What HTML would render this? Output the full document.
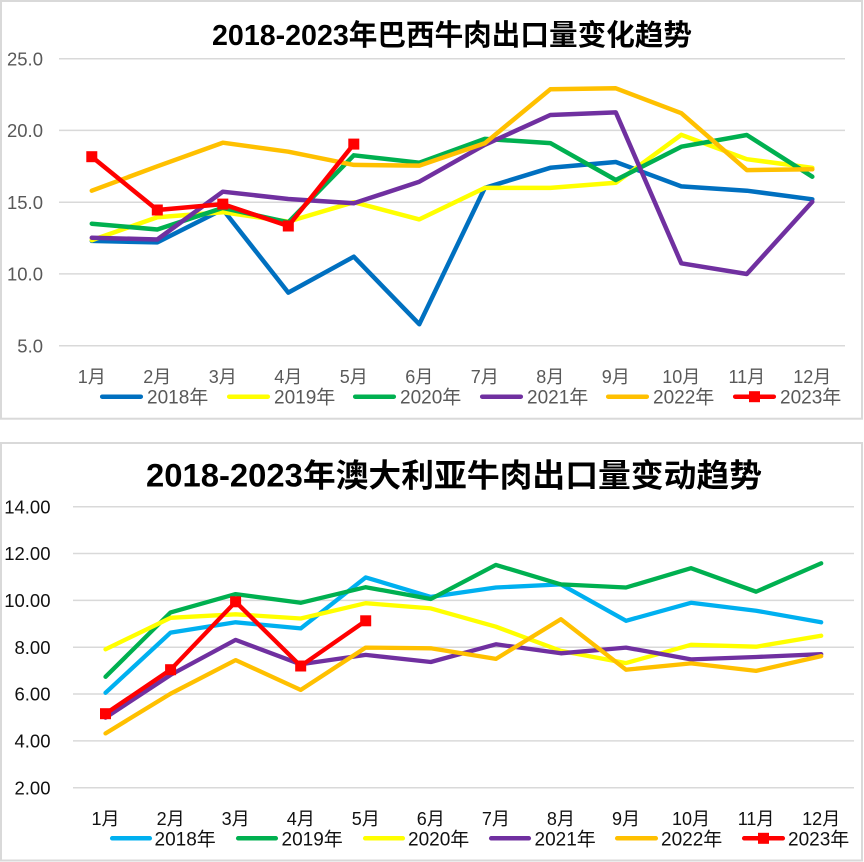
<!DOCTYPE html>
<html><head><meta charset="utf-8"><style>
html,body{margin:0;padding:0;background:#fff;}
svg{display:block;}
</style></head><body>
<svg width="864" height="862" viewBox="0 0 864 862" xmlns="http://www.w3.org/2000/svg">
<rect x="0" y="0" width="864" height="862" fill="#fff"/>
<!-- ============ TOP CHART ============ -->
<rect x="1" y="1" width="861" height="417.7" fill="#fff" stroke="#d9d9d9" stroke-width="2"/>
<text x="452" y="45" text-anchor="middle" font-family="'Liberation Sans','Noto Sans CJK SC',sans-serif" font-weight="bold" font-size="29" fill="#000" textLength="480" lengthAdjust="spacingAndGlyphs">2018-2023年巴西牛肉出口量变化趋势</text>
<g stroke="#d9d9d9" stroke-width="1.5">
<line x1="59" y1="58.7" x2="845" y2="58.7"/>
<line x1="59" y1="130.4" x2="845" y2="130.4"/>
<line x1="59" y1="202.2" x2="845" y2="202.2"/>
<line x1="59" y1="273.9" x2="845" y2="273.9"/>
<line x1="59" y1="345.7" x2="845" y2="345.7"/>
</g>
<g font-family="'Liberation Sans','Noto Sans CJK SC',sans-serif" font-size="18.5" fill="#595959" text-anchor="end">
<text x="43" y="65.3">25.0</text>
<text x="43" y="137">20.0</text>
<text x="43" y="208.8">15.0</text>
<text x="43" y="280.5">10.0</text>
<text x="43" y="352.3">5.0</text>
</g>
<g font-family="'Liberation Sans','Noto Sans CJK SC',sans-serif" font-size="18" fill="#595959" text-anchor="middle">
<text x="91.8" y="383">1月</text>
<text x="157.3" y="383">2月</text>
<text x="222.8" y="383">3月</text>
<text x="288.3" y="383">4月</text>
<text x="353.8" y="383">5月</text>
<text x="419.3" y="383">6月</text>
<text x="484.8" y="383">7月</text>
<text x="550.3" y="383">8月</text>
<text x="615.8" y="383">9月</text>
<text x="681.3" y="383">10月</text>
<text x="746.8" y="383">11月</text>
<text x="812.3" y="383">12月</text>
</g>
<g fill="none" stroke-width="4.5" stroke-linejoin="round" stroke-linecap="round">
<polyline stroke="#0070C0" points="91.8,240.9 157.3,242.4 222.8,209.4 288.3,292.6 353.8,256.7 419.3,324.2 484.8,187.9 550.3,167.8 615.8,162.0 681.3,186.4 746.8,190.7 812.3,199.3"/>
<polyline stroke="#FFFF00" points="91.8,240.2 157.3,217.3 222.8,212.2 288.3,221.6 353.8,202.2 419.3,219.4 484.8,187.9 550.3,187.9 615.8,182.8 681.3,134.8 746.8,159.2 812.3,167.8"/>
<polyline stroke="#00B050" points="91.8,223.7 157.3,229.5 222.8,207.9 288.3,222.3 353.8,155.3 419.3,162.7 484.8,138.9 550.3,143.1 615.8,180.0 681.3,146.7 746.8,135.0 812.3,176.7"/>
<polyline stroke="#7030A0" points="91.8,237.7 157.3,239.5 222.8,191.7 288.3,199.0 353.8,203.3 419.3,181.7 484.8,144.8 550.3,115.0 615.8,112.4 681.3,263.3 746.8,274.0 812.3,201.8"/>
<polyline stroke="#FFC000" points="91.8,190.7 157.3,166.3 222.8,142.7 288.3,151.7 353.8,164.9 419.3,165.6 484.8,143.3 550.3,89.3 615.8,88.3 681.3,113.2 746.8,170.1 812.3,169.3"/>
<polyline stroke="#FF0000" points="91.8,156.7 157.3,210.0 222.8,204.1 288.3,226.0 353.8,144.1"/>
</g>
<g fill="#FF0000">
<rect x="86.3" y="151.2" width="11" height="11"/>
<rect x="151.8" y="204.5" width="11" height="11"/>
<rect x="217.3" y="198.6" width="11" height="11"/>
<rect x="282.8" y="220.5" width="11" height="11"/>
<rect x="348.3" y="138.6" width="11" height="11"/>
</g>
<!-- top legend -->
<g stroke-width="4.5" stroke-linecap="round">
<line x1="102.2" y1="396.7" x2="140.8" y2="396.7" stroke="#0070C0"/>
<line x1="229.2" y1="396.7" x2="267.8" y2="396.7" stroke="#FFFF00"/>
<line x1="355.2" y1="396.7" x2="393.8" y2="396.7" stroke="#00B050"/>
<line x1="482.2" y1="396.7" x2="520.8" y2="396.7" stroke="#7030A0"/>
<line x1="608.2" y1="396.7" x2="646.8" y2="396.7" stroke="#FFC000"/>
<line x1="735.2" y1="396.7" x2="773.8" y2="396.7" stroke="#FF0000"/>
</g>
<rect x="749" y="391.2" width="11" height="11" fill="#FF0000"/>
<g font-family="'Liberation Sans','Noto Sans CJK SC',sans-serif" font-size="19" fill="#595959">
<text x="147" y="403.5">2018年</text>
<text x="274" y="403.5">2019年</text>
<text x="400" y="403.5">2020年</text>
<text x="527" y="403.5">2021年</text>
<text x="653" y="403.5">2022年</text>
<text x="780" y="403.5">2023年</text>
</g>

<!-- ============ BOTTOM CHART ============ -->
<rect x="1" y="443" width="861" height="417.5" fill="#fff" stroke="#d9d9d9" stroke-width="2"/>
<text x="454" y="486.7" text-anchor="middle" font-family="'Liberation Sans','Noto Sans CJK SC',sans-serif" font-weight="bold" font-size="32" fill="#000" textLength="616" lengthAdjust="spacingAndGlyphs">2018-2023年澳大利亚牛肉出口量变动趋势</text>
<g stroke="#d9d9d9" stroke-width="1.5">
<line x1="73" y1="506.7" x2="854" y2="506.7"/>
<line x1="73" y1="553.5" x2="854" y2="553.5"/>
<line x1="73" y1="600.4" x2="854" y2="600.4"/>
<line x1="73" y1="647.2" x2="854" y2="647.2"/>
<line x1="73" y1="694.0" x2="854" y2="694.0"/>
<line x1="73" y1="740.9" x2="854" y2="740.9"/>
<line x1="73" y1="787.7" x2="854" y2="787.7"/>
</g>
<g font-family="'Liberation Sans','Noto Sans CJK SC',sans-serif" font-size="18.5" fill="#111" text-anchor="end">
<text x="50.5" y="513.4">14.00</text>
<text x="50.5" y="560.2">12.00</text>
<text x="50.5" y="607.1">10.00</text>
<text x="50.5" y="653.9">8.00</text>
<text x="50.5" y="700.7">6.00</text>
<text x="50.5" y="747.6">4.00</text>
<text x="50.5" y="794.4">2.00</text>
</g>
<g font-family="'Liberation Sans','Noto Sans CJK SC',sans-serif" font-size="18" fill="#111" text-anchor="middle">
<text x="105.5" y="825">1月</text>
<text x="170.6" y="825">2月</text>
<text x="235.6" y="825">3月</text>
<text x="300.7" y="825">4月</text>
<text x="365.7" y="825">5月</text>
<text x="430.8" y="825">6月</text>
<text x="495.9" y="825">7月</text>
<text x="560.9" y="825">8月</text>
<text x="626.0" y="825">9月</text>
<text x="691.0" y="825">10月</text>
<text x="756.1" y="825">11月</text>
<text x="821.2" y="825">12月</text>
</g>
<g fill="none" stroke-width="4.3" stroke-linejoin="round" stroke-linecap="round">
<polyline stroke="#00B0F0" points="105.5,692.8 170.6,632.6 235.6,622.3 300.7,628.4 365.7,577.4 430.8,596.9 495.9,587.5 560.9,584.4 626.0,620.8 691.0,602.8 756.1,610.7 821.2,622.3"/>
<polyline stroke="#00B050" points="105.5,676.8 170.6,612.4 235.6,594.1 300.7,602.8 365.7,587.2 430.8,599.0 495.9,564.9 560.9,584.4 626.0,587.5 691.0,568.2 756.1,591.7 821.2,563.3"/>
<polyline stroke="#FFFF00" points="105.5,649.3 170.6,617.8 235.6,614.3 300.7,618.5 365.7,603.2 430.8,608.4 495.9,626.7 560.9,650.9 626.0,663.1 691.0,644.8 756.1,646.7 821.2,635.7"/>
<polyline stroke="#7030A0" points="105.5,717.7 170.6,674.9 235.6,639.9 300.7,664.3 365.7,654.9 430.8,662.0 495.9,644.3 560.9,653.3 626.0,647.6 691.0,659.4 756.1,657.0 821.2,654.2"/>
<polyline stroke="#FFC000" points="105.5,733.4 170.6,693.7 235.6,660.1 300.7,689.9 365.7,647.6 430.8,648.3 495.9,658.9 560.9,619.2 626.0,669.7 691.0,663.4 756.1,670.9 821.2,656.1"/>
<polyline stroke="#FF0000" points="105.5,713.7 170.6,669.7 235.6,601.8 300.7,666.0 365.7,620.8"/>
</g>
<g fill="#FF0000">
<rect x="100" y="708.2" width="11" height="11"/>
<rect x="165.1" y="664.2" width="11" height="11"/>
<rect x="230.1" y="596.3" width="11" height="11"/>
<rect x="295.2" y="660.5" width="11" height="11"/>
<rect x="360.2" y="615.3" width="11" height="11"/>
</g>
<!-- bottom legend -->
<g stroke-width="4.5" stroke-linecap="round">
<line x1="112.2" y1="838.3" x2="149.8" y2="838.3" stroke="#00B0F0"/>
<line x1="238.2" y1="838.3" x2="275.8" y2="838.3" stroke="#00B050"/>
<line x1="365.2" y1="838.3" x2="402.8" y2="838.3" stroke="#FFFF00"/>
<line x1="491.2" y1="838.3" x2="528.8" y2="838.3" stroke="#7030A0"/>
<line x1="617.2" y1="838.3" x2="655.8" y2="838.3" stroke="#FFC000"/>
<line x1="744.2" y1="838.3" x2="782.8" y2="838.3" stroke="#FF0000"/>
</g>
<rect x="758" y="832.8" width="11" height="11" fill="#FF0000"/>
<g font-family="'Liberation Sans','Noto Sans CJK SC',sans-serif" font-size="19" fill="#111">
<text x="154.5" y="845.5">2018年</text>
<text x="281.5" y="845.5">2019年</text>
<text x="408" y="845.5">2020年</text>
<text x="534.5" y="845.5">2021年</text>
<text x="661" y="845.5">2022年</text>
<text x="788" y="845.5">2023年</text>
</g>
</svg>
</body></html>
